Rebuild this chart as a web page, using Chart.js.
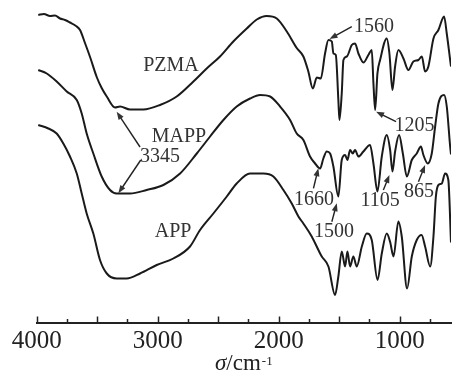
<!DOCTYPE html>
<html>
<head>
<meta charset="utf-8">
<title>FTIR spectra</title>
<script src="https://cdn.jsdelivr.net/npm/chart.js@4.4.1/dist/chart.umd.min.js"></script>
<style>
  html, body { margin: 0; padding: 0; background: #fff; }
  #wrap { width: 452px; height: 372px; }
</style>
</head>
<body>
<div id="wrap"><canvas id="ftir" width="452" height="372"></canvas></div>
<script>
// wavenumbers (cm-1) and relative transmittance
const pzmaWave = [3987,3940,3890,3849,3807,3766,3725,3675,3642,3601,3559,3504,3463,3421,3353,3311,3229,3119,2981,2843,2705,2595,2485,2375,2264,2181,2099,2016,1933,1851,1796,1755,1718,1685,1652,1617,1589,1561,1548,1528,1507,1498,1479,1465,1437,1396,1369,1341,1300,1259,1231,1217,1203,1184,1162,1107,1085,1060,1038,1011,969,928,887,845,817,790,763,721,680,633,611,583,576];
const pzmaT = [307.5,308.5,306.5,307,304,302.5,300,296.5,292.5,279.5,265.5,245.5,234.5,226,215,216,213,213,217.5,226,241,254,266,281,294,303,306.5,304,291,274.5,266,251,234,245,244,269,282.5,281,269,267.5,222.5,202.5,229,262.5,266,277.5,279,269,260,267.5,272.5,239,212.5,249,262.5,284,269,232.5,256,272.5,264,252.5,261,262.5,266,251,256,284,292.5,306,289,262.5,256];

const mappWave = [3987,3917,3835,3752,3669,3628,3587,3532,3463,3394,3339,3229,3091,2953,2815,2677,2567,2457,2347,2237,2154,2071,1989,1906,1851,1796,1741,1699,1658,1631,1603,1575,1548,1507,1479,1451,1432,1410,1388,1369,1341,1300,1245,1217,1184,1148,1107,1079,1060,1038,1005,974,941,900,859,825,804,768,735,707,680,633,611,583,576];
const mappT = [252.5,249,241,231,222.5,209,189,169,146,132.5,129,129,132.5,137.5,149,169,186,202.5,216,224,227.5,226,216,202.5,189,182.5,166,159,154,164,171,169,156,126,162.5,167.5,162.5,172.5,169,172.5,166,171,177.5,159,131,166,187.5,172.5,151,171,187.5,169,146,162.5,169,176,167.5,159,169,196,219,227.5,216,176,168];

const appWave = [3987,3904,3835,3780,3725,3669,3628,3587,3532,3477,3421,3339,3256,3146,3008,2871,2733,2650,2540,2429,2347,2237,2127,2044,1961,1892,1837,1796,1727,1672,1644,1589,1534,1507,1479,1451,1432,1410,1383,1355,1313,1272,1231,1183,1148,1107,1079,1051,1011,983,939,900,859,819,790,748,721,701,680,652,625,598,576];
const appT = [197.5,194,189,179,166,149,129,109,89,62.5,49,44,44,49,57.5,64,76,92.5,109,126,139,149,149,146,132.5,119,106,99,86,72.5,66,56,27.5,46,71,56,71,56,66,56,76,89,82.5,42.5,69,89,80.5,66,101,86,34,66,82.5,87.5,76,56,86,126,137.5,139,149,142.5,80];

const tickValues = [4000,3750,3500,3250,3000,2750,2500,2250,2000,1750,1500,1250,1000,750];
const tickLabels = [4000,3000,2000,1000];

// labels and arrows, in data coordinates [wavenumber, transmittance]
const notes = [
  { text: 'PZMA', at: [2890, 258.5] },
  { text: 'MAPP', at: [2824, 187.5] },
  { text: 'APP',  at: [2873, 92.5] },
  { text: '3345', at: [2981, 168], arrows: [[3146, 175.5, 3339, 210.8], [3140, 162.5, 3325, 129.2]] },
  { text: '1560', at: [1212, 297.5], arrows: [[1396, 295.8, 1580, 283.5]] },
  { text: '1205', at: [877, 199], arrows: [[1030, 200.8, 1195, 210.8]] },
  { text: '1660', at: [1708, 124.5], arrows: [[1713, 134.2, 1672, 154.2]] },
  { text: '1500', at: [1542, 92.5], arrows: [[1561, 100.8, 1520, 119.2]] },
  { text: '1105', at: [1162, 123.5], arrows: [[1135, 132.5, 1085, 147.5]] },
  { text: '865',  at: [840, 132.5], arrows: [[845, 140.8, 790, 157.5]] }
];

const toPoints = (xs, ys) => xs.map((x, i) => ({ x: x, y: ys[i] }));
const SERIF = '"Liberation Serif", "DejaVu Serif", serif';
const INK = '#1a1a1a';

function arrow(ctx, x1, y1, x2, y2) {
  const a = Math.atan2(y2 - y1, x2 - x1);
  const len = 8, half = 3;
  ctx.beginPath();
  ctx.moveTo(x1, y1);
  ctx.lineTo(x2 - Math.cos(a) * len * 0.8, y2 - Math.sin(a) * len * 0.8);
  ctx.stroke();
  ctx.beginPath();
  ctx.moveTo(x2, y2);
  ctx.lineTo(x2 - Math.cos(a) * len + Math.sin(a) * half, y2 - Math.sin(a) * len - Math.cos(a) * half);
  ctx.lineTo(x2 - Math.cos(a) * len - Math.sin(a) * half, y2 - Math.sin(a) * len + Math.cos(a) * half);
  ctx.closePath();
  ctx.fill();
}

const decor = {
  id: 'decor',
  afterDraw(chart) {
    const { ctx, chartArea, scales: { x, y } } = chart;
    ctx.save();
    // inward tick marks
    ctx.strokeStyle = '#222';
    ctx.lineWidth = 1.5;
    tickValues.forEach(v => {
      const px = Math.round(x.getPixelForValue(v)) + 0.5;
      const len = v % 500 === 0 ? 6 : 3.5;
      ctx.beginPath();
      ctx.moveTo(px, chartArea.bottom);
      ctx.lineTo(px, chartArea.bottom - len);
      ctx.stroke();
    });

    // annotations
    ctx.fillStyle = '#333';
    ctx.strokeStyle = '#222';
    ctx.lineWidth = 1.4;
    ctx.font = '20px ' + SERIF;
    ctx.textAlign = 'center';
    ctx.textBaseline = 'alphabetic';
    notes.forEach(n => {
      ctx.fillText(n.text, x.getPixelForValue(n.at[0]), y.getPixelForValue(n.at[1]) + 7);
      (n.arrows || []).forEach(a => {
        arrow(ctx, x.getPixelForValue(a[0]), y.getPixelForValue(a[1]),
                   x.getPixelForValue(a[2]), y.getPixelForValue(a[3]));
      });
    });

    // axis title: σ/cm-1
    const cx = (chartArea.left + chartArea.right) / 2;
    const base = 370;
    ctx.textAlign = 'left';
    ctx.font = 'italic 23px ' + SERIF;
    const w1 = ctx.measureText('σ').width;
    ctx.font = '23px ' + SERIF;
    const w2 = ctx.measureText('/cm').width;
    ctx.font = '13px ' + SERIF;
    const w3 = ctx.measureText('-1').width;
    let sx = cx - (w1 + w2 + w3 + 1) / 2;
    ctx.fillStyle = '#222';
    ctx.font = 'italic 23px ' + SERIF;
    ctx.fillText('σ', sx, base);
    ctx.font = '23px ' + SERIF;
    ctx.fillText('/cm', sx + w1, base);
    ctx.font = '13px ' + SERIF;
    ctx.fillText('-1', sx + w1 + w2 + 1, base - 5);
    ctx.restore();
  }
};

new Chart(document.getElementById('ftir'), {
  type: 'line',
  data: {
    datasets: [
      { label: 'PZMA', data: toPoints(pzmaWave, pzmaT) },
      { label: 'MAPP', data: toPoints(mappWave, mappT) },
      { label: 'APP',  data: toPoints(appWave, appT) }
    ]
  },
  options: {
    responsive: false,
    animation: false,
    devicePixelRatio: 1,
    layout: { padding: { left: 36.7, right: 1, top: 2.5, bottom: 0 } },
    elements: {
      point: { radius: 0 },
      line: { borderWidth: 2, borderColor: INK, fill: false, cubicInterpolationMode: 'monotone' }
    },
    plugins: { legend: { display: false }, tooltip: { enabled: false } },
    scales: {
      x: {
        type: 'linear',
        reverse: true,
        min: 576,
        max: 4000,
        afterBuildTicks: s => { s.ticks = tickValues.map(v => ({ value: v })); },
        afterFit: s => { s.height = 49.5; },
        grid: { display: false },
        border: { display: true, color: '#222', width: 2 },
        ticks: {
          autoSkip: false,
          maxRotation: 0,
          padding: -4,
          color: '#222',
          font: { family: SERIF, size: 25 },
          callback: v => tickLabels.includes(v) ? String(v) : ''
        }
      },
      y: { display: false, min: 0, max: 320 }
    }
  },
  plugins: [decor]
});
</script>
</body>
</html>
